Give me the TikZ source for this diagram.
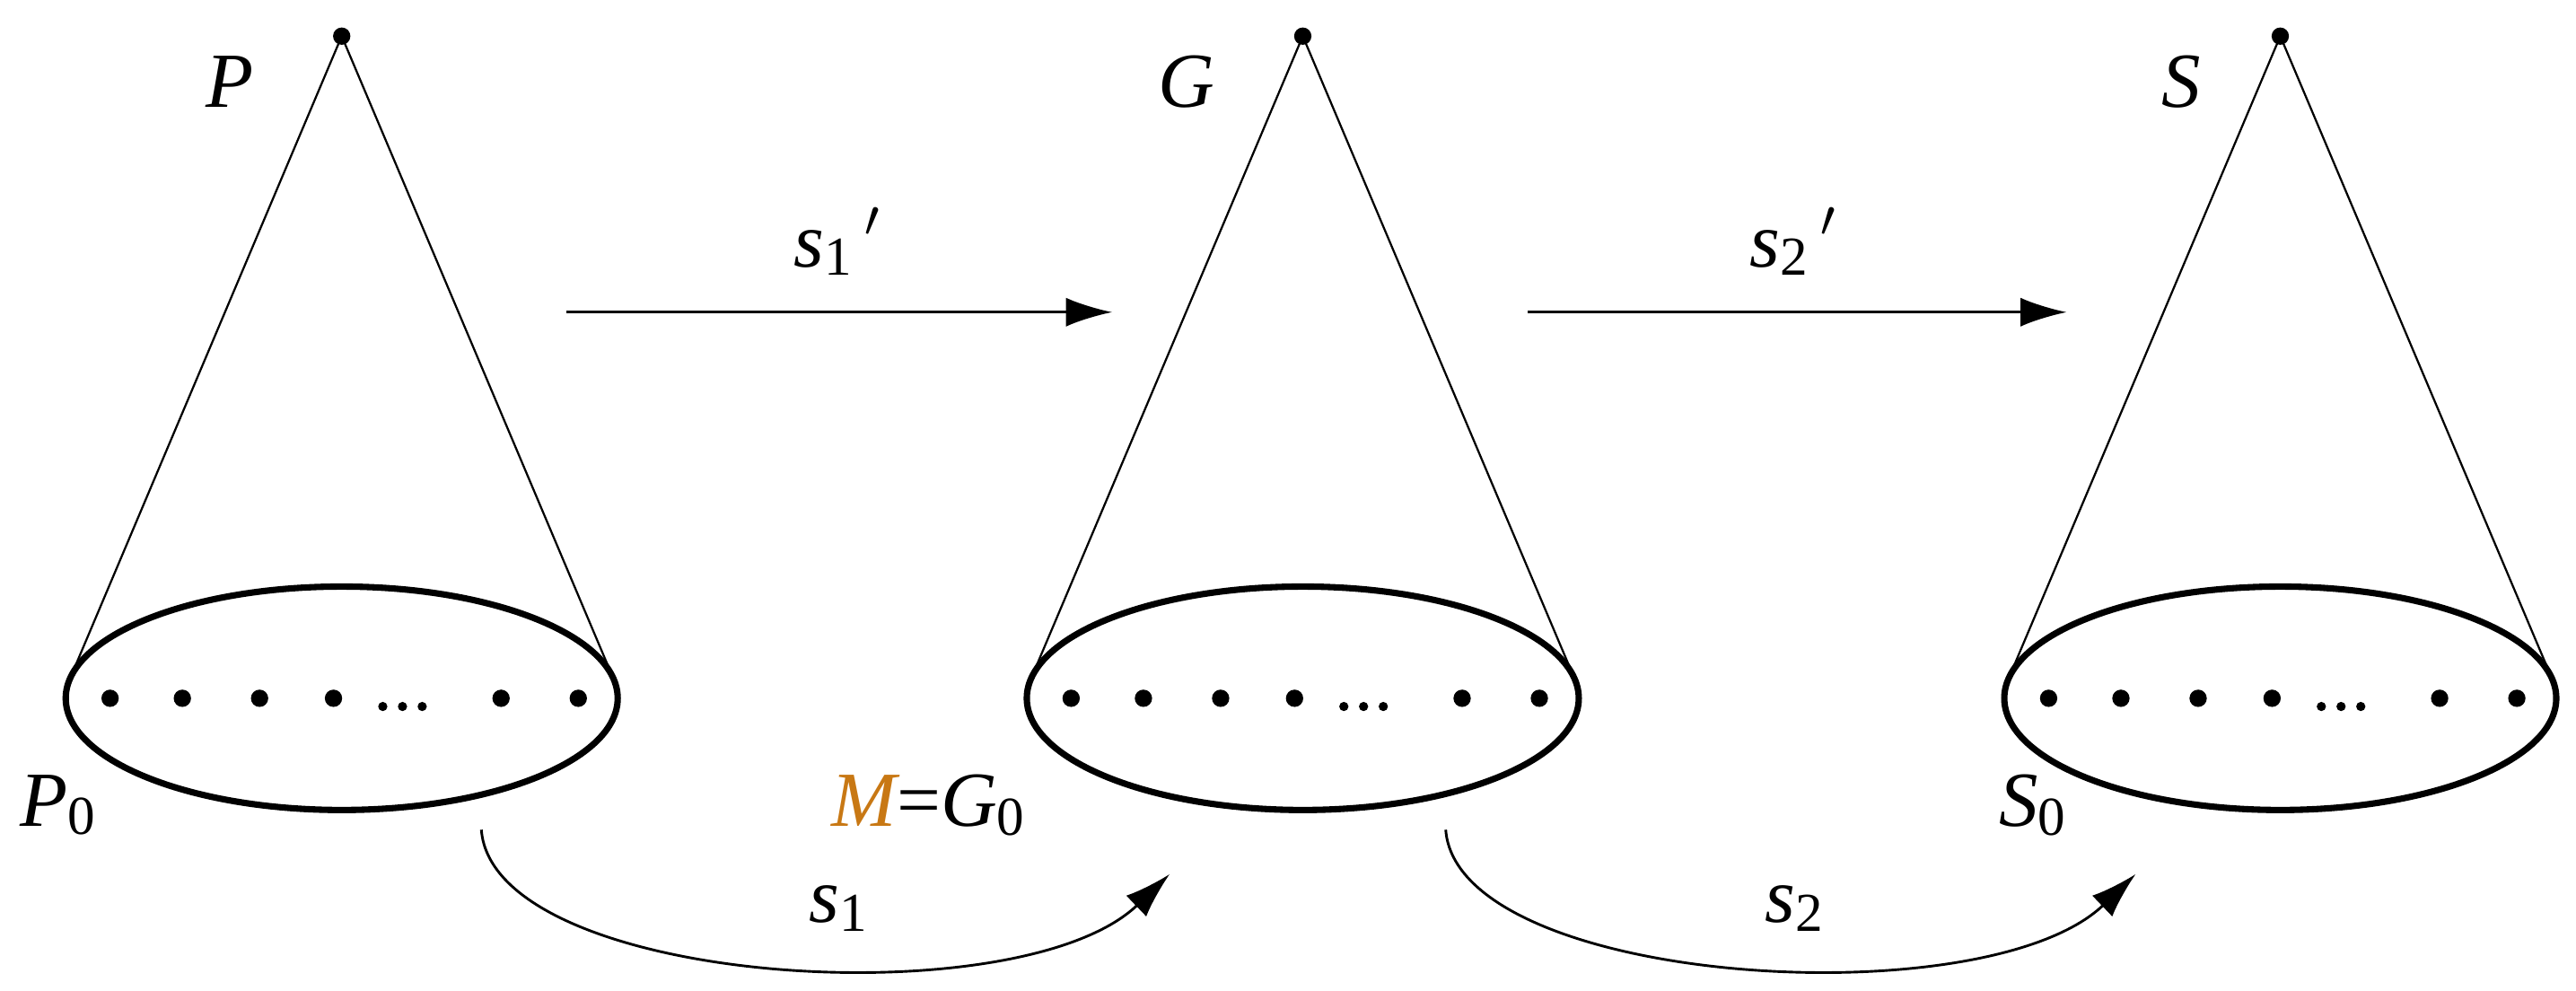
\documentclass[tikz,border=0pt]{standalone}
\usepackage{fontspec}
\setmainfont{Liberation Serif}
\usetikzlibrary{arrows.meta}
\newcommand{\sbs}[1]{\textup{\fontsize{9.5}{11}\selectfont\raisebox{-1.5pt}{#1}}}
\tikzset{
  lbl/.style={font=\fontsize{13.5}{16}\selectfont\itshape, inner sep=0pt},
  conel/.style={line width=0.35pt},
  ell/.style={line width=1.1pt},
  arr/.style={line width=0.45pt,-{Latex[length=8pt,width=5pt]}},
  dt/.style={circle,fill,inner sep=0pt,minimum size=3pt}
}
\begin{document}
\begin{tikzpicture}[x=0.01cm,y=-0.01cm]
\useasboundingbox (0,0) rectangle (1568,603);
\foreach \n/\cx in {a/208,b/793,c/1388}{
  \node[dt] (\n top) at (\cx,22) {};
  \draw[conel] (\n top.center) -- (\cx-165.6,413.5);
  \draw[conel] (\n top.center) -- (\cx+165.6,413.5);
  \draw[ell] (\cx,425) ellipse [x radius=168, y radius=68];
  \foreach \d in {-141,-97,-50,-5,97,144}{ \node[dt] at (\cx+\d,425) {}; }
  \foreach \d in {25,37,49}{ \node[circle,fill,inner sep=0pt,minimum size=1.6pt] at (\cx+\d,430) {}; }
}
\node[lbl] (P) at (140,50) {P};
\node[lbl] (G) at (722,50) {G};
\node[lbl] (S) at (1328,50) {S};
\node[lbl] (P0) at (35,490) {P\sbs{0}};
\node[lbl] (G0) at (565,490) {\textcolor[RGB]{200,120,20}{M}\textup{=}G\sbs{0}};
\node[lbl] (S0) at (1237,490) {S\sbs{0}};
\coordinate (a1) at (345,190); \coordinate (a2) at (677,190);
\coordinate (b1) at (930,190); \coordinate (b2) at (1258,190);
\draw[arr] (a1) -- (a2);
\draw[arr] (b1) -- (b2);
\node[lbl] at (510,147) {s\sbs{1}\,$'$};
\node[lbl] at (1092,147) {s\sbs{2}\,$'$};
\coordinate (c1) at (293,505); \coordinate (c2) at (712,532);
\coordinate (d1) at (880,505); \coordinate (d2) at (1300,532);
\draw[arr] (c1) .. controls (300,600) and (620,620) .. (c2);
\draw[arr] (d1) .. controls (887,600) and (1208,620) .. (d2);
\node[lbl] at (510,553) {s\sbs{1}};
\node[lbl] at (1092,553) {s\sbs{2}};
\end{tikzpicture}
\end{document}
